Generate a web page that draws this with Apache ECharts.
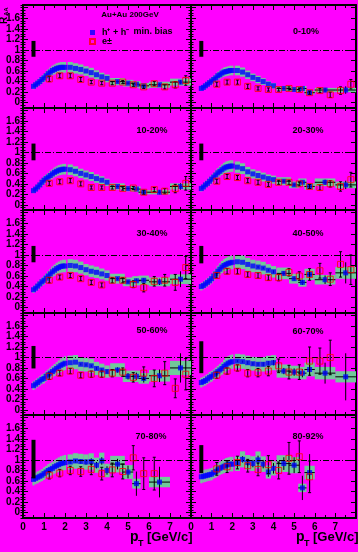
<!DOCTYPE html>
<html><head><meta charset="utf-8">
<script src="https://cdn.jsdelivr.net/npm/echarts@6/dist/echarts.min.js"></script>
<style>html,body{margin:0;padding:0;background:#ff00ff;}#c{width:358px;height:552px;}</style>
</head><body><div id="c"></div>
<script>
// ---- data ----
const hPt = [0.5,0.6,0.7,0.8,0.9,1.0,1.1,1.2,1.3,1.4,1.5,1.6,1.7,1.8,1.9,2.0,2.25,2.5,2.75,3.0,3.25,3.5,3.75,4.0,4.5,5.0,5.4,5.75,6.5,7.5];
const hBinHalf = [0.05,0.05,0.05,0.05,0.05,0.05,0.05,0.05,0.05,0.05,0.05,0.05,0.05,0.05,0.05,0.05,0.125,0.125,0.125,0.125,0.125,0.125,0.125,0.125,0.35,0.25,0.2,0.25,0.5,0.5];
const hSysRel = [0.18,0.17,0.17,0.16,0.16,0.16,0.15,0.15,0.15,0.15,0.15,0.15,0.15,0.15,0.15,0.15,0.15,0.15,0.15,0.15,0.16,0.16,0.16,0.16,0.17,0.17,0.17,0.17,0.17,0.17];
const ePt = [1.25,1.75,2.25,2.75,3.25,3.75,4.25,4.75,5.25,5.75,6.25,6.75,7.25,7.75];

const hR_mb   = [.31,.34,.37,.40,.44,.47,.51,.55,.58,.61,.63,.65,.66,.67,.67,.67,.67,.65,.63,.60,.57,.53,.49,.46,.40,.37,.35,.32,.34,.39];
const hR_0010 = [.27,.29,.32,.35,.38,.41,.44,.47,.51,.53,.56,.58,.59,.60,.61,.61,.61,.58,.53,.48,.44,.40,.35,.32,.27,.25,.27,.19,.24,.24];
const hR_1020 = [.27,.30,.34,.38,.43,.47,.50,.53,.56,.59,.62,.64,.66,.67,.68,.68,.67,.64,.60,.57,.54,.50,.47,.43,.35,.31,.30,.24,.24,.35];
const hR_2030 = [.31,.34,.38,.41,.45,.49,.53,.57,.61,.64,.67,.70,.72,.73,.74,.74,.72,.69,.63,.59,.56,.53,.50,.48,.45,.38,.43,.35,.43,.38];
const hR_3040 = [.34,.37,.41,.45,.49,.52,.56,.60,.64,.68,.71,.74,.76,.78,.79,.79,.80,.79,.76,.72,.69,.67,.64,.61,.55,.49,.51,.52,.49,.54];
const hR_4050 = [.40,.42,.45,.48,.51,.55,.60,.64,.69,.73,.77,.80,.82,.84,.85,.86,.87,.86,.82,.79,.77,.75,.71,.68,.65,.55,.48,.63,.53,.66];
const hR_5060 = [.46,.49,.52,.55,.58,.60,.64,.67,.70,.73,.76,.79,.82,.85,.87,.89,.90,.91,.87,.86,.84,.79,.76,.73,.76,.64,.64,.60,.65,.80];
const hR_6070 = [.52,.54,.56,.59,.62,.64,.67,.70,.73,.76,.79,.83,.86,.89,.91,.92,.93,.92,.90,.88,.87,.87,.89,.90,.74,.72,.70,.77,.70,.63];
const hR_7080 = [.63,.65,.67,.69,.71,.74,.77,.80,.82,.84,.87,.89,.91,.93,.94,.95,.96,.98,.97,.96,.97,.90,.98,.80,.92,.77,.55,null,.58,null];
const hR_8092 = [.68,.69,.70,.71,.72,.73,.76,.78,.81,.84,.86,.88,.90,.91,.92,.92,.93,1.01,.95,.93,1.0,.92,.77,.84,.93,.90,.47,.76,null,null];

// hadron stat errors for pT >= 2.25 (hPt index 16..29)
const hE_mb   = [0,0,0,0,0,0,0,0,.02,.02,.02,.02,.03,.04];
const hE_0010 = [0,0,0,0,0,0,0,0,.02,.02,.02,.03,.04,.07];
const hE_1020 = [0,0,0,0,0,0,0,0,.02,.02,.03,.03,.04,.06];
const hE_2030 = [0,0,0,0,0,0,0,0,.03,.03,.03,.04,.05,.08];
const hE_3040 = [0,0,0,0,0,0,0,0,.03,.03,.04,.04,.06,.15];
const hE_4050 = [0,0,0,0,.02,.02,.02,.03,.04,.04,.05,.06,.08,.2];
const hE_5060 = [0,0,.02,.02,.02,.03,.03,.04,.05,.06,.07,.08,.12,.28];
const hE_6070 = [.02,.02,.03,.03,.03,.04,.04,.05,.06,.07,.08,.12,.2,.45];
const hE_7080 = [.03,.03,.04,.05,.06,.06,.07,.08,.1,.12,.23,null,.29,null];
const hE_8092 = [.05,.06,.06,.07,.08,.08,.09,.1,.12,.15,.23,.35,null,null];

const eR_mb   = [.45,.51,.51,.44,.39,.37,.37,.39,.34,.30,.36,.30,.34,.42];
const eR_0010 = [.35,.39,.39,.31,.27,.25,.25,.27,.25,.19,.23,.15,.23,.35];
const eR_1020 = [.41,.44,.46,.40,.33,.33,.33,.31,.32,.24,.29,.26,.31,.41];
const eR_2030 = [.45,.54,.52,.46,.43,.39,.43,.43,.40,.35,.33,.40,.35,.48];
const eR_3040 = [.52,.58,.61,.55,.48,.43,.52,.52,.44,.38,.50,.52,.48,.76];
const eR_4050 = [.61,.69,.69,.63,.61,.57,.57,.67,.60,.63,.70,.54,.82,.72];
const eR_5060 = [.64,.70,.74,.66,.68,.68,.70,.72,.62,.70,.60,.70,.41,.68];
const eR_6070 = [.66,.74,.80,.70,.71,.74,.84,.72,.72,.93,.93,1.0,null,null];
const eR_7080 = [.71,.75,.80,.78,.82,.74,.81,.78,1.04,.74,.74,null,null,null];
const eR_8092 = [.83,.87,.95,.89,.82,.91,.80,1.03,1.06,.68,null,null,null,null];

const eE_mb   = [.05,.04,.04,.04,.03,.03,.03,.03,.03,.03,.04,.04,.06,.09];
const eE_0010 = [.04,.04,.04,.04,.03,.03,.03,.03,.03,.03,.04,.05,.07,.09];
const eE_1020 = [.04,.04,.04,.04,.03,.03,.03,.03,.03,.04,.04,.05,.08,.13];
const eE_2030 = [.04,.04,.04,.04,.04,.04,.04,.04,.04,.04,.05,.06,.09,.14];
const eE_3040 = [.05,.04,.04,.04,.04,.04,.05,.05,.06,.08,.09,.11,.15,.21];
const eE_4050 = [.05,.05,.05,.05,.05,.05,.06,.07,.08,.11,.14,.12,.24,.28];
const eE_5060 = [.06,.05,.05,.05,.06,.06,.07,.08,.09,.12,.16,.22,.18,.30];
const eE_6070 = [.06,.06,.06,.07,.08,.09,.13,.13,.14,.27,.25,.33,null,null];
const eE_7080 = [.07,.07,.08,.09,.10,.12,.13,.14,.23,.30,.31,null,null,null];
const eE_8092 = [.12,.11,.12,.12,.12,.17,.16,.30,.30,.30,null,null,null,null];

const normPt = 0.5;
const normLo = [.87,.87,.85,.85,.86,.84,.79,.70,.65,.75];
const normHi = [1.17,1.17,1.17,1.17,1.17,1.17,1.22,1.31,1.38,1.28];

const panelLabels = ['min. bias','0-10%','10-20%','20-30%','30-40%','40-50%','50-60%','60-70%','70-80%','80-92%'];
const xTickLabels = ['0','1','2','3','4','5','6','7'];
const yTickValues = [0,0.2,0.4,0.6,0.8,1,1.2,1.4,1.6];
const legendNames = ['h\u207A + h\u207B','e\u00B1'];

const hAll = [hR_mb,hR_0010,hR_1020,hR_2030,hR_3040,hR_4050,hR_5060,hR_6070,hR_7080,hR_8092];
const hErrAll = [hE_mb,hE_0010,hE_1020,hE_2030,hE_3040,hE_4050,hE_5060,hE_6070,hE_7080,hE_8092];
const eAll = [eR_mb,eR_0010,eR_1020,eR_2030,eR_3040,eR_4050,eR_5060,eR_6070,eR_7080,eR_8092];
const eErrAll = [eE_mb,eE_0010,eE_1020,eE_2030,eE_3040,eE_4050,eE_5060,eE_6070,eE_7080,eE_8092];

// ---- layout ----
const GREEN = '#72c89a';
const FONT = 'Liberation Sans';
const tops = [5,108,210,313,415], bots = [108,210,313,415,518];
const grids=[], xAxes=[], yAxes=[], series=[];
for (let i=0;i<10;i++){
  const c=i%2, r=Math.floor(i/2);
  grids.push({left:c?191:23, width:c?165:168, top:tops[r], height:bots[r]-tops[r], show:false});
  const xBase = {gridIndex:i,type:'value',min:0,max:8,interval:1,
    axisLine:{onZero:false,lineStyle:{color:'#000',width:2}},
    axisTick:{inside:true,length:5,lineStyle:{color:'#000',width:1}},
    minorTick:{show:true,splitNumber:2,length:3,lineStyle:{color:'#000',width:1}},
    splitLine:{show:false}};
  xAxes.push(Object.assign({},xBase,{position:'bottom',
    axisLabel:{show:r===4,showMaxLabel:false,margin:4,color:'#000',fontFamily:FONT,fontWeight:'bold',fontSize:10,
      formatter:v=>xTickLabels[Math.round(v)]||''}}));
  xAxes.push(Object.assign({},xBase,{position:'top',axisLabel:{show:false}}));
  const yMaj = {gridIndex:i,type:'value',min:-0.1,max:1.85,
    axisLine:{onZero:false,lineStyle:{color:'#000',width:2}},
    axisTick:{inside:true,length:5,lineStyle:{color:'#000',width:1},customValues:[0,0.2,0.4,0.6,0.8,1,1.2,1.4,1.6,1.8]},
    splitLine:{show:false}};
  const yMin = {gridIndex:i,type:'value',min:-0.1,max:1.85,interval:0.05,
    axisLine:{show:false},axisLabel:{show:false},
    axisTick:{inside:true,length:2.5,lineStyle:{color:'#000',width:1}},
    splitLine:{show:false}};
  yAxes.push(Object.assign({},yMaj,{position:'left',axisLabel:{show:c===0,customValues:yTickValues,margin:3,color:'#000',fontFamily:FONT,fontWeight:'bold',fontSize:10}}));
  yAxes.push(Object.assign({},yMin,{position:'left'}));
  yAxes.push(Object.assign({},yMaj,{position:'right',axisLabel:{show:false}}));
  yAxes.push(Object.assign({},yMin,{position:'right'}));

  const xi=2*i, yi=4*i;
  const h=hAll[i], he=hErrAll[i], e=eAll[i], ee=eErrAll[i];
  // systematic band
  series.push({type:'custom',xAxisIndex:xi,yAxisIndex:yi,silent:true,z:1,
    data:hPt.map((x,k)=>h[k]==null?null:[x,h[k],h[k]*hSysRel[k],hBinHalf[k]]).filter(Boolean),
    renderItem:(p,api)=>{
      const x=api.value(0),y=api.value(1),s=api.value(2),w=api.value(3);
      const a=api.coord([x-w,y+s]), b=api.coord([x+w,y-s]);
      return {type:'rect',shape:{x:a[0],y:a[1],width:b[0]-a[0],height:b[1]-a[1]},style:{fill:GREEN}};
    }});
  // hadron error bars
  series.push({type:'custom',xAxisIndex:xi,yAxisIndex:yi,silent:true,z:2,
    data:hPt.map((x,k)=>(k<16||h[k]==null)?null:[x,h[k],he[k-16]||0,hBinHalf[k],k>=24?1:0]).filter(Boolean),
    renderItem:(p,api)=>{
      const x=api.value(0),y=api.value(1),er=api.value(2),w=api.value(3),hx=api.value(4);
      const ch=[];
      if(er>0){const a=api.coord([x,y+er]),b=api.coord([x,y-er]);
        ch.push({type:'line',shape:{x1:a[0],y1:a[1],x2:b[0],y2:b[1]},style:{stroke:'#000',lineWidth:1}});}
      if(hx){const a=api.coord([x-w,y]),b=api.coord([x+w,y]);
        ch.push({type:'line',shape:{x1:a[0],y1:a[1],x2:b[0],y2:b[1]},style:{stroke:'#000',lineWidth:1}});}
      return {type:'group',children:ch};
    }});
  // hadron markers
  series.push({type:'scatter',name:legendNames[0],xAxisIndex:xi,yAxisIndex:yi,z:3,symbol:'rect',symbolSize:5,
    itemStyle:{color:'#0000ff'},silent:true,
    data:hPt.map((x,k)=>h[k]==null?null:[x,h[k]]).filter(Boolean),
    markLine:{silent:true,symbol:'none',label:{show:false},animation:false,
      lineStyle:{color:'#000',width:1,type:[6,2,1,2]},data:[{yAxis:1}]}});
  // electron error bars
  series.push({type:'custom',xAxisIndex:xi,yAxisIndex:yi,silent:true,z:4,
    data:ePt.map((x,k)=>e[k]==null?null:[x,e[k],ee[k]]).filter(Boolean),
    renderItem:(p,api)=>{
      const x=api.value(0),y=api.value(1),er=api.value(2);
      const a=api.coord([x,y+er]),b=api.coord([x,y-er]);
      const st={stroke:'#000',lineWidth:1};
      return {type:'group',children:[
        {type:'line',shape:{x1:a[0],y1:a[1],x2:b[0],y2:b[1]},style:st},
        {type:'line',shape:{x1:a[0]-1.5,y1:a[1],x2:a[0]+1.5,y2:a[1]},style:st},
        {type:'line',shape:{x1:b[0]-1.5,y1:b[1],x2:b[0]+1.5,y2:b[1]},style:st}]};
    }});
  // electron markers
  series.push({type:'scatter',name:legendNames[1],xAxisIndex:xi,yAxisIndex:yi,z:5,symbol:'rect',symbolSize:6,silent:true,
    itemStyle:{color:'rgba(0,0,0,0)',borderColor:'#ff0000',borderWidth:1},
    data:ePt.map((x,k)=>e[k]==null?null:[x,e[k]]).filter(Boolean)});
  // normalization uncertainty bar
  series.push({type:'custom',xAxisIndex:xi,yAxisIndex:yi,silent:true,z:6,
    data:[[normPt,normLo[i],normHi[i]]],
    renderItem:(p,api)=>{
      const a=api.coord([api.value(0),api.value(2)]), b=api.coord([api.value(0),api.value(1)]);
      return {type:'rect',shape:{x:a[0]-2,y:a[1],width:4,height:b[1]-a[1]},style:{fill:'#000'}};
    }});
}

// text elements
const bold = {fontFamily:FONT,fontWeight:'bold',fill:'#000'};
const labelPos = [[153,32],[306,32],[152,131],[308,131],[152,234],[308,234],[152,331],[308,332],[151,437],[308,437]];
const graphic = [];
panelLabels.forEach((t,i)=>{
  graphic.push({type:'text',x:labelPos[i][0],y:labelPos[i][1],
    style:Object.assign({text:t,fontSize:9,align:'center',verticalAlign:'middle'},bold)});
});
graphic.push({type:'text',x:130,y:15,style:Object.assign({text:'Au+Au 200GeV',fontSize:8,align:'center',verticalAlign:'middle'},bold)});
// axis titles
[0,166].forEach(dx=>{
  graphic.push({type:'text',x:130+dx,y:530,style:Object.assign({text:'p',fontSize:14,verticalAlign:'top'},bold)});
  graphic.push({type:'text',x:138+dx,y:539,style:Object.assign({text:'T',fontSize:9,verticalAlign:'top'},bold)});
  graphic.push({type:'text',x:147+dx,y:531,style:Object.assign({text:'[GeV/c]',fontSize:13,verticalAlign:'top'},bold)});
});
graphic.push({type:'text',x:9,y:24,rotation:Math.PI/2,style:Object.assign({text:'R',fontSize:10,verticalAlign:'bottom'},bold)});
graphic.push({type:'text',x:9,y:16,rotation:Math.PI/2,style:Object.assign({text:'AA',fontSize:6,verticalAlign:'bottom'},bold)});

const chart = echarts.init(document.getElementById('c'),null,{renderer:'canvas'});
chart.setOption({
  backgroundColor:'#ff00ff',
  animation:false,
  grid:grids, xAxis:xAxes, yAxis:yAxes, series:series,
  legend:{data:legendNames,orient:'vertical',left:84,top:23,itemWidth:5,itemHeight:5,itemGap:0,selectedMode:false,
    textStyle:{fontFamily:FONT,fontWeight:'bold',fontSize:9,color:'#000',padding:[0,0,0,2]}},
  graphic:graphic
});
</script></body></html>
